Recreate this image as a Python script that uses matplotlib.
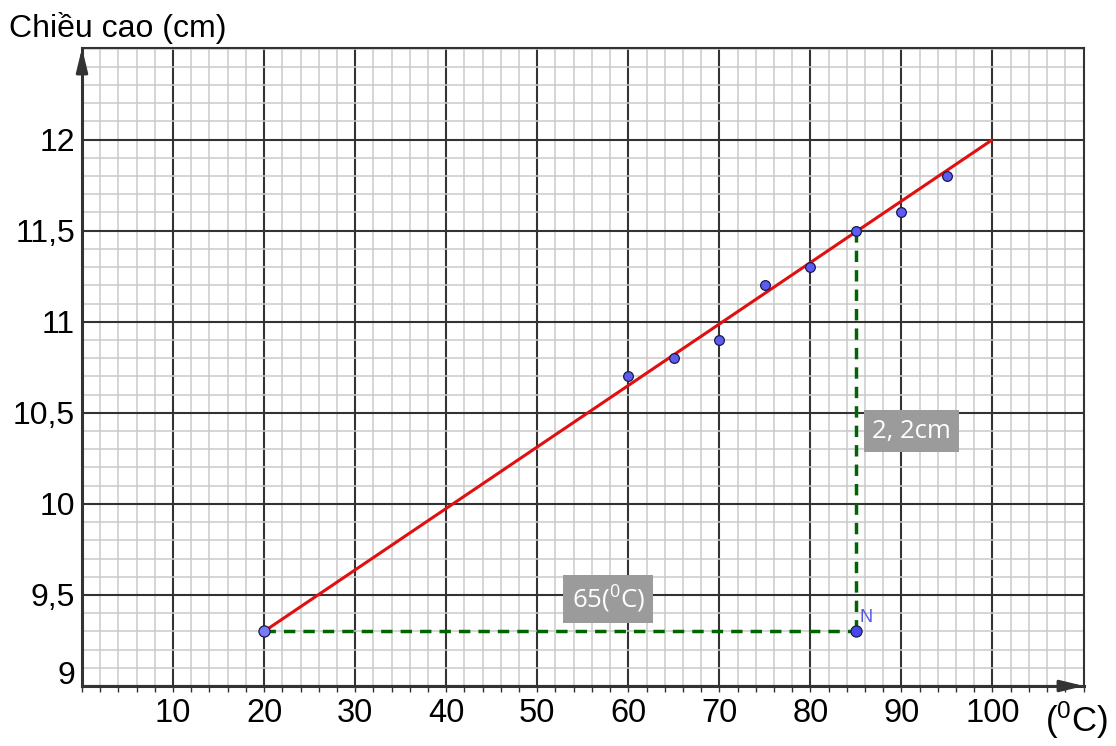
import matplotlib
matplotlib.use("Agg")
import matplotlib.pyplot as plt
import numpy as np
from matplotlib.ticker import MultipleLocator
from matplotlib.transforms import ScaledTranslation

plt.rcParams['font.family'] = ['Liberation Sans', 'DejaVu Sans']
plt.rcParams['mathtext.default'] = 'regular'
plt.rcParams['lines.scale_dashes'] = False

# data
temps = [60, 65, 70, 75, 80, 85, 90, 95]
heights = [10.7, 10.8, 10.9, 11.2, 11.3, 11.5, 11.6, 11.8]
fit_x = [20, 100]
fit_y = [9.3, 12.0]
start_pt = (20, 9.3)
n_pt = (85, 9.3)
top_pt = (85, 11.5)
x_ticks = [10, 20, 30, 40, 50, 60, 70, 80, 90, 100]
x_labels = ['10', '20', '30', '40', '50', '60', '70', '80', '90', '100']
y_ticks = [9, 9.5, 10, 10.5, 11, 11.5, 12]
y_labels = ['9', '9,5', '10', '10,5', '11', '11,5', '12']

fig = plt.figure(figsize=(11.16, 7.46), dpi=100)
ax = fig.add_axes([82/1116, 1-686/746, (1084-82)/1116, (686-48)/746])
ax.set_xlim(0, 110.05)
ax.set_ylim(9, 12.503)

ax.xaxis.set_major_locator(MultipleLocator(10))
ax.xaxis.set_minor_locator(MultipleLocator(2))
ax.yaxis.set_major_locator(MultipleLocator(0.5))
ax.yaxis.set_minor_locator(MultipleLocator(0.1))
ax.grid(which='minor', color='#cacaca', lw=1.1, zorder=0)
ax.grid(which='major', color='#333333', lw=1.5, zorder=0.5)
ax.set_axisbelow(True)

ax.set_xticks(x_ticks, x_labels)
ax.set_yticks(y_ticks, y_labels)
ax.tick_params(axis='x', which='both', direction='out', length=4, width=1, color='#333333',
               labelsize=23.5, pad=5)
ax.tick_params(axis='y', which='both', length=0, labelsize=23, pad=5)
# "9" label sits above the axis
for lab, v in zip(ax.get_yticklabels(), y_ticks):
    if v == 9:
        lab.set_transform(lab.get_transform() + ScaledTranslation(0, 13/100, fig.dpi_scale_trans))

for s in ['top', 'right']:
    ax.spines[s].set_color('#333333')
    ax.spines[s].set_linewidth(1.5)
for s in ['left', 'bottom']:
    ax.spines[s].set_color('#333333')
    ax.spines[s].set_linewidth(2.2)
    ax.spines[s].set_zorder(3)

# axis arrows
ax.annotate('', xy=(1.0, 0), xytext=(0.985, 0), xycoords='axes fraction',
            arrowprops=dict(arrowstyle='-|>,head_length=0.7,head_width=0.17', mutation_scale=20,
                            color='#333333', lw=2.2, shrinkA=0, shrinkB=0), annotation_clip=False)
ax.annotate('', xy=(0, 1.0), xytext=(0, 0.97), xycoords='axes fraction',
            arrowprops=dict(arrowstyle='-|>,head_length=0.7,head_width=0.17', mutation_scale=20,
                            color='#333333', lw=2.2, shrinkA=0, shrinkB=0), annotation_clip=False)

# fit line
ax.plot(fit_x, fit_y, color='#e01010', lw=2.2, zorder=4, solid_capstyle='butt')
# dashed guides
ax.plot([start_pt[0], n_pt[0]], [start_pt[1], n_pt[1]], color='#006400', lw=2.5,
        dashes=(8.2, 5.8), zorder=4)
ax.plot([n_pt[0], top_pt[0]], [n_pt[1], top_pt[1]], color='#006400', lw=2.5,
        dashes=(8.2, 5.8), zorder=4)

# points
ax.plot(temps, heights, 'o', ms=7, mfc='#5c5cf0', mec='#1a1a50', mew=0.9, zorder=5)
ax.plot([start_pt[0]], [start_pt[1]], 'o', ms=8, mfc='#7a7af2', mec='#1a1a50', mew=0.9, zorder=5)
ax.plot([n_pt[0]], [n_pt[1]], 'o', ms=8, mfc='#4848f0', mec='#1a1a50', mew=0.9, zorder=5)
ax.text(85.4, 9.33, 'N', color='#5555dd', fontsize=13, ha='left', va='bottom', zorder=6)

# labels in grey boxes
ax.text(57.8, 9.478, '65($^0$C)', color='white', fontsize=18.5, ha='center', va='center',
        family=['Open Sans', 'DejaVu Sans'], zorder=6,
        bbox=dict(boxstyle='square,pad=0.32', fc='#9b9b9b', ec='none'))
ax.text(91.1, 10.40, '2, 2cm', color='white', fontsize=18.5, ha='center', va='center',
        family=['Open Sans', 'DejaVu Sans'], zorder=6,
        bbox=dict(boxstyle='square,pad=0.32', fc='#9b9b9b', ec='none'))

# axis titles
fig.text(9/1116, 1-28/746, 'Chiều cao (cm)', fontsize=23, ha='left', va='center')
fig.text(1076/1116, 1-720/746, '($^0$C)', fontsize=25, ha='center', va='center')

fig.savefig('out.png', dpi=100)
